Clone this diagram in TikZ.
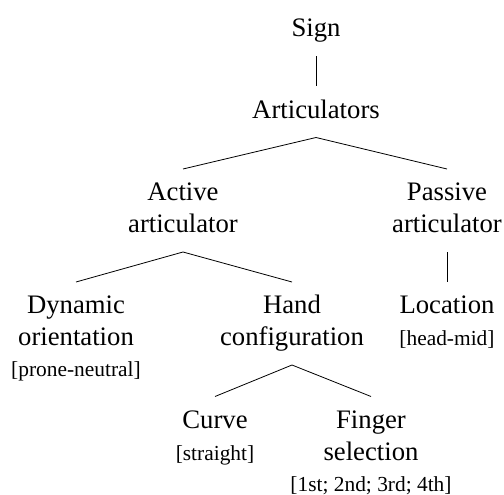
\documentclass[tikz,border=0pt]{standalone}
\usepackage{fontspec}
\setmainfont{Liberation Serif}
\newcommand\tstrut{\rule{0pt}{31.5pt}}
\newcommand\bstrut{\rule[-19.5pt]{0pt}{19.5pt}}
\newcommand\brk[1]{{\fontsize{21.4}{25}\selectfont #1}}
\begin{document}
\begin{tikzpicture}[x=1pt,y=-1pt,
  lab/.style={inner sep=0pt, outer sep=0pt, align=center, anchor=north,
              font=\fontsize{26.7}{32}\selectfont},
  edge/.style={draw, line width=0.8pt}]
\useasboundingbox (0,0) rectangle (504,495);
\node[lab] (sign) at (316,5.5) {\tstrut Sign\bstrut};
\node[lab] (art)  at (316,86.5) {\tstrut Articulators\bstrut};
\node[lab] (act)  at (183,169) {\tstrut Active\\articulator\bstrut};
\node[lab] (pas)  at (447,169) {\tstrut Passive\\articulator\bstrut};
\node[lab] (dyn)  at (76,282) {\tstrut Dynamic\\orientation\\[-1pt]\brk{[prone-neutral]}};
\node[lab] (hand) at (292,282) {\tstrut Hand\\configuration\bstrut};
\node[lab] (loc)  at (447,282) {\tstrut Location\\\brk{[head-mid]}};
\node[lab] (cur)  at (215,396.5) {\tstrut Curve\\\brk{[straight]}};
\node[lab] (fin)  at (371,396.5) {\tstrut Finger\\selection\\[-1pt]\brk{[1st; 2nd; 3rd; 4th]}};
\draw[edge] (sign.south) -- (art.north);
\draw[edge] (art.south) -- (act.north);
\draw[edge] (art.south) -- (pas.north);
\draw[edge] (act.south) -- (dyn.north);
\draw[edge] (act.south) -- (hand.north);
\draw[edge] (pas.south) -- (loc.north);
\draw[edge] (hand.south) -- (cur.north);
\draw[edge] (hand.south) -- (fin.north);
\end{tikzpicture}
\end{document}
